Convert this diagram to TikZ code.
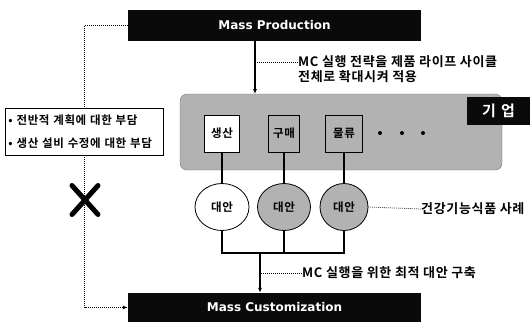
\documentclass[tikz,border=0pt]{standalone}
\usepackage{fontspec}
\usepackage{tikz}
\usetikzlibrary{arrows.meta,calc,shapes.geometric}
\newfontfamily\kofont{Noto Sans CJK KR Bold}[LetterSpace=5]
\newfontfamily\latfont{DejaVu Sans Bold}
\definecolor{panelgray}{RGB}{178,178,178}
\definecolor{inkblack}{RGB}{10,10,10}

\begin{document}
\begin{tikzpicture}[
      x=1pt, y=-1pt, >={Latex[length=5pt,width=4pt]},
      bar/.style={fill=inkblack, minimum width=293pt, inner sep=0pt,
                  text=white, font=\latfont\fontsize{12}{14}\selectfont},
      panel/.style={rounded corners=7pt, draw=black!55, fill=panelgray,
                    minimum width=322pt, minimum height=76pt, inner sep=0pt},
      tag/.style={fill=inkblack, text=white, minimum width=63pt,
                  minimum height=28pt, inner sep=0pt,
                  font=\kofont\fontsize{15}{17}\selectfont},
      dept/.style={draw=black, line width=0.8pt, minimum height=37pt,
                   inner sep=0pt, font=\kofont\fontsize{11.5}{13}\selectfont},
      alt/.style={ellipse, draw=black, line width=0.8pt, minimum height=47pt,
                  inner sep=0pt, font=\kofont\fontsize{11.5}{13}\selectfont},
      dotmark/.style={circle, fill=black, minimum size=4pt, inner sep=0pt},
      memo/.style={draw=black, line width=0.6pt, text width=152pt,
                   minimum height=47pt, inner xsep=3pt, inner ysep=4pt,
                   align=left, font=\kofont\fontsize{11.5}{23}\selectfont},
      note/.style={anchor=west, inner sep=0pt,
                   font=\kofont\fontsize{13}{15}\selectfont},
      nomark/.style={minimum width=36pt, minimum height=39pt, inner sep=0pt,
        path picture={
          \draw[line width=5pt, line cap=round]
            ($(path picture bounding box.north west)+(5,5)$) --
            ($(path picture bounding box.south east)+(-5,-5)$)
            ($(path picture bounding box.north east)+(-5,5)$) --
            ($(path picture bounding box.south west)+(5,-5)$);}},
      line/.style={line width=1.2pt, draw=black},
      arr/.style={->, line width=1.2pt, draw=black},
      leader/.style={draw=black, line width=0.8pt,
                     dash pattern=on 0.8pt off 1.2pt}
    ]
    \useasboundingbox (0,0) rectangle (530,322);

    \node[bar, minimum height=31pt] (mp) at (274.5,25.5) {Mass Production};
    \node[bar, minimum height=29pt] (mc) at (274.5,307.5) {Mass Customization};

    % company panel with departments
    \node[panel] (firm) at (341,132) {};
    \node[tag] (firmtag) at (498.5,111) {기\,\,업};
    \node[dept, fill=white, minimum width=35pt] (prod) at (222,133.5) {생산};
    \node[dept, fill=panelgray, minimum width=31pt] (buy) at (284,133.5) {구매};
    \node[dept, fill=panelgray, minimum width=37pt] (logi) at (344,133.5) {물류};
    \foreach \x [count=\i] in {380,402,423}
      \node[dotmark] (dot\i) at (\x,133) {};

    % alternatives
    \node[alt, fill=white, minimum width=54pt] (alt1) at (222,207) {대안};
    \node[alt, fill=panelgray, minimum width=53pt] (alt2) at (284,207) {대안};
    \node[alt, fill=panelgray, minimum width=48pt] (alt3) at (344,207) {대안};

    \coordinate (mpfoot) at (255,94);
    \coordinate (join) at (260,253);

    \draw[arr] (mp.south -| mpfoot) -- (mpfoot);
    \draw[line] (prod) -- (alt1);
    \draw[line] (buy) -- (alt2);
    \draw[line] (logi) -- (alt3);
    \draw[line] (alt1.south) -- (alt1.south |- join) -- (alt3.south |- join)
                -- (alt3.south);
    \draw[line] (alt2.south) -- (alt2.south |- join);
    \draw[arr] (join) -- (mc.north -| join);

    % notes
    \node[note] (spread) at (298,62) {MC 실행 전략을 제품 라이프 사이클};
    \node[note] (spread2) at (298,77) {전체로 확대시켜 적용};
    \node[note] (case) at (421,209) {건강기능식품 사례};
    \node[note] (best) at (302,273) {MC 실행을 위한 최적 대안 구축};
    \draw[leader] (spread.west) -- (spread.west -| mpfoot);
    \draw[leader] (alt3.east) -- (case.west);
    \draw[leader] (best.west) -- (best.west -| join);

    % left side: burden memo and the blocked path
    \node[memo] (burden) at (84.5,131.5) {• 전반적 계획에 대한 부담\\• 생산 설비 수정에 대한 부담};
    \draw[leader] (mp.west) -| (burden.north);
    \draw[leader, ->] (burden.south) |- (mc.west);
    \node[nomark] (nox) at (85,200) {};
  \end{tikzpicture}
\end{document}
